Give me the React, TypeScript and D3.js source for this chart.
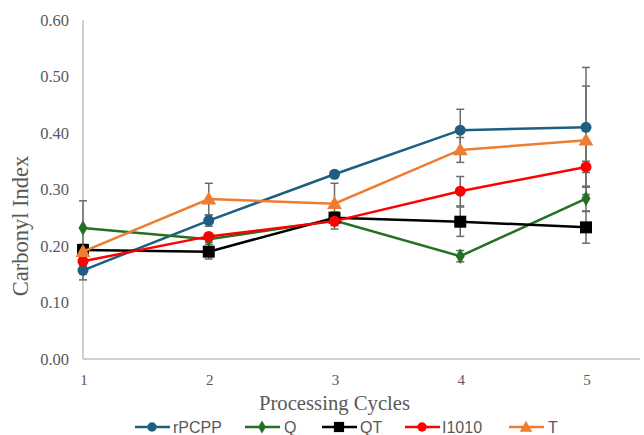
import React from 'react';
import * as d3 from 'd3';

const cycles = [1, 2, 3, 4, 5];
const yTicks = [0, 0.1, 0.2, 0.3, 0.4, 0.5, 0.6];

const rPCPP = [0.157, 0.245, 0.327, 0.405, 0.41];
const rPCPPErr = [0.017, 0.01, 0.005, 0.037, 0.106];
const Q = [0.232, 0.212, 0.245, 0.182, 0.284];
const QErr = [0.048, 0.005, 0.015, 0.01, 0.022];
const QT = [0.193, 0.19, 0.25, 0.243, 0.233];
const QTErr = [0.01, 0.013, 0.01, 0.026, 0.028];
const I1010 = [0.173, 0.217, 0.244, 0.297, 0.34];
const I1010Err = [0.008, 0.005, 0.008, 0.026, 0.01];
const T = [0.19, 0.283, 0.275, 0.37, 0.387];
const TErr = [0.012, 0.028, 0.036, 0.022, 0.096];

const series = [
  { name: 'rPCPP', values: rPCPP, err: rPCPPErr, color: '#1d5f80', shape: 'circle' },
  { name: 'Q', values: Q, err: QErr, color: '#247024', shape: 'diamond' },
  { name: 'QT', values: QT, err: QTErr, color: '#000000', shape: 'square' },
  { name: 'I1010', values: I1010, err: I1010Err, color: '#ff0000', shape: 'circle' },
  { name: 'T', values: T, err: TErr, color: '#ed7d31', shape: 'triangle' },
];

const width = 644;
const height = 435;
const margin = { top: 20, right: 58, bottom: 76, left: 83 };

function Marker({ shape, x, y, color, size = 1 }) {
  switch (shape) {
    case 'square':
      return <rect x={x - 6 * size} y={y - 6 * size} width={12 * size} height={12 * size} fill={color} />;
    case 'diamond':
      return <path d={d3.symbol(d3.symbolDiamond, 70 * size * size)()} transform={`translate(${x},${y})`} fill={color} />;
    case 'triangle':
      return <path d={d3.symbol(d3.symbolTriangle, 95 * size * size)()} transform={`translate(${x},${y + 1})`} fill={color} />;
    default:
      return <circle cx={x} cy={y} r={5.5 * size} fill={color} />;
  }
}

export default function App() {
  const x = d3.scaleLinear([1, 5], [margin.left, width - margin.right]);
  const y = d3.scaleLinear([0, 0.6], [height - margin.bottom, margin.top]);
  const line = d3.line((d, i) => x(cycles[i]), (d) => y(d));

  const legendItems = [
    { lx: 135, tx: 173 },
    { lx: 245, tx: 284 },
    { lx: 322, tx: 360 },
    { lx: 405, tx: 442 },
    { lx: 509, tx: 548 },
  ];

  return (
    <svg width={width} height={height} style={{ position: 'absolute', left: 0, top: 0, background: '#fff' }}>
      {/* axes */}
      <line x1={margin.left} x2={margin.left} y1={margin.top} y2={y(0)} stroke="#bfbfbf" strokeWidth={1.5} />
      <line x1={margin.left} x2={width - 4} y1={y(0)} y2={y(0)} stroke="#bfbfbf" strokeWidth={1.5} />
      <g fontFamily="Liberation Serif" fontSize={16.5} fill="#595959">
        {yTicks.map((t) => (
          <text key={t} x={69} y={y(t)} dy="0.35em" textAnchor="end">{t.toFixed(2)}</text>
        ))}
      </g>
      <g fontFamily="Liberation Serif" fontSize={15} fill="#595959">
        {cycles.map((c) => (
          <text key={c} x={x(c) + 1} y={y(0) + 21} dy="0.35em" textAnchor="middle">{c}</text>
        ))}
      </g>
      <text x={(x(1) + x(5)) / 2} y={403} dy="0.35em" textAnchor="middle" fontFamily="Liberation Serif" fontSize={20.7} fill="#595959">Processing Cycles</text>
      <text transform={`translate(20,226) rotate(-90)`} dy="0.35em" textAnchor="middle" fontFamily="Liberation Serif" fontSize={22.5} fill="#595959">Carbonyl Index</text>

      {/* error bars */}
      <g stroke="#6b6b6b" strokeWidth={1.5}>
        {series.map((s) => s.values.map((v, i) => {
          const cx = x(cycles[i]);
          const top = y(v + s.err[i]);
          const bot = y(v - s.err[i]);
          return (
            <g key={`${s.name}-${i}`}>
              <line x1={cx} x2={cx} y1={top} y2={bot} />
              <line x1={cx - 4} x2={cx + 4} y1={top} y2={top} />
              <line x1={cx - 4} x2={cx + 4} y1={bot} y2={bot} />
            </g>
          );
        }))}
      </g>

      {/* series */}
      {series.map((s) => (
        <g key={s.name}>
          <path d={line(s.values)} fill="none" stroke={s.color} strokeWidth={2.5} />
          {s.values.map((v, i) => (
            <Marker key={i} shape={s.shape} x={x(cycles[i])} y={y(v)} color={s.color} />
          ))}
        </g>
      ))}

      {/* legend */}
      {series.map((s, i) => {
        const it = legendItems[i];
        return (
          <g key={s.name}>
            <line x1={it.lx} x2={it.lx + 35} y1={427} y2={427} stroke={s.color} strokeWidth={2.5} />
            <Marker shape={s.shape} x={it.lx + 17} y={427} color={s.color} size={0.85} />
            <text x={it.tx} y={427} dy="0.35em" fontFamily="Liberation Sans" fontSize={16} fill="#595959">{s.name}</text>
          </g>
        );
      })}
    </svg>
  );
}
